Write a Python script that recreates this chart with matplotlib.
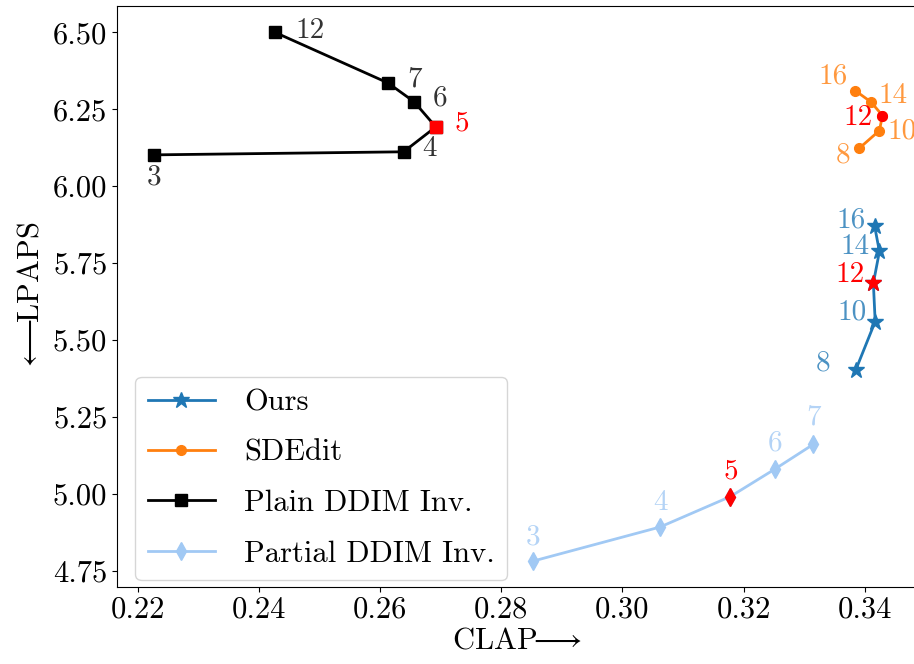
import matplotlib
matplotlib.use("Agg")
import matplotlib.pyplot as plt

# CLAP (x) and LPAPS (y) values per number of steps
ours_steps = [8, 10, 12, 14, 16]
ours_clap = [0.3385, 0.3417, 0.3414, 0.3424, 0.3416]
ours_lpaps = [5.403, 5.560, 5.685, 5.788, 5.871]

sde_steps = [8, 10, 12, 14, 16]
sde_clap = [0.3391, 0.3424, 0.3429, 0.3410, 0.3384]
sde_lpaps = [6.124, 6.181, 6.230, 6.274, 6.311]

plain_steps = [3, 4, 5, 6, 7, 12]
plain_clap = [0.2227, 0.2639, 0.2692, 0.2656, 0.2613, 0.2427]
plain_lpaps = [6.102, 6.112, 6.193, 6.275, 6.336, 6.500]

partial_steps = [3, 4, 5, 6, 7]
partial_clap = [0.2852, 0.3062, 0.3178, 0.3252, 0.3315]
partial_lpaps = [4.781, 4.892, 4.991, 5.081, 5.161]

# which step is highlighted in red for each method
ours_best = 12
sde_best = 12
plain_best = 5
partial_best = 5

# label offsets in pixels (dx, dy)
ours_off = [(-33, 7), (-23, 9), (-23, 8), (-24, 5), (-24, 6)]
sde_off = [(-16, -7), (23, -1), (-24, -2), (22, 6), (-22, 14)]
plain_off = [(0, -22), (26, 3), (26, 4), (26, 3), (27, 4), (35, 2)]
partial_off = [(0, 24), (0, 24), (0, 25), (0, 26), (0, 27)]

plt.rcParams['font.family'] = 'cmr10'
plt.rcParams['mathtext.fontset'] = 'cm'
plt.rcParams['axes.formatter.use_mathtext'] = True
plt.rcParams['font.size'] = 22

fig = plt.figure(figsize=(9.14, 6.64), dpi=100)
ax = fig.add_axes([117 / 914, 77.3 / 664, 800 / 914, 581 / 664])

series = [
    ("Ours", ours_steps, ours_clap, ours_lpaps, ours_best, ours_off, '#1f77b4', '*', 12),
    ("SDEdit", sde_steps, sde_clap, sde_lpaps, sde_best, sde_off, '#ff7f0e', 'o', 7),
    ("Plain DDIM Inv.", plain_steps, plain_clap, plain_lpaps, plain_best, plain_off, 'black', 's', 8),
    ("Partial DDIM Inv.", partial_steps, partial_clap, partial_lpaps, partial_best, partial_off, '#a1c9f4', 'd', 9),
]

for name, steps, xs, ys, best, offs, color, marker, ms in series:
    ax.plot(xs, ys, color=color, marker=marker, markersize=ms, linewidth=2, label=name)
    for s, x, y, off in zip(steps, xs, ys, offs):
        tc = color
        if s == best:
            ax.plot([x], [y], color='red', marker=marker, markersize=ms, linestyle='none')
            tc = 'red'
        ax.annotate(str(s), (x, y), xytext=off, textcoords='offset pixels',
                    ha='center', va='center', color=tc, fontsize=21,
                    alpha=1.0 if s == best else 0.8)

ax.set_xlim(0.2166, 0.3486)
ax.set_ylim(4.698, 6.587)
ax.set_xticks([0.22, 0.24, 0.26, 0.28, 0.30, 0.32, 0.34])
ax.set_yticks([4.75, 5.00, 5.25, 5.50, 5.75, 6.00, 6.25, 6.50])
ax.set_xticklabels(["0.22", "0.24", "0.26", "0.28", "0.30", "0.32", "0.34"])
ax.set_yticklabels(["4.75", "5.00", "5.25", "5.50", "5.75", "6.00", "6.25", "6.50"])
ax.set_xlabel(r'CLAP$\!\!\longrightarrow$', labelpad=2)
ax.set_ylabel(r'$\longleftarrow\!\!$LPAPS', labelpad=6)

ax.legend(loc='lower left', bbox_to_anchor=(0.023, 0.012), borderaxespad=0,
          fontsize=22, labelspacing=0.75, handletextpad=0.95, handlelength=2.2)

fig.savefig("out.png", dpi=100)
